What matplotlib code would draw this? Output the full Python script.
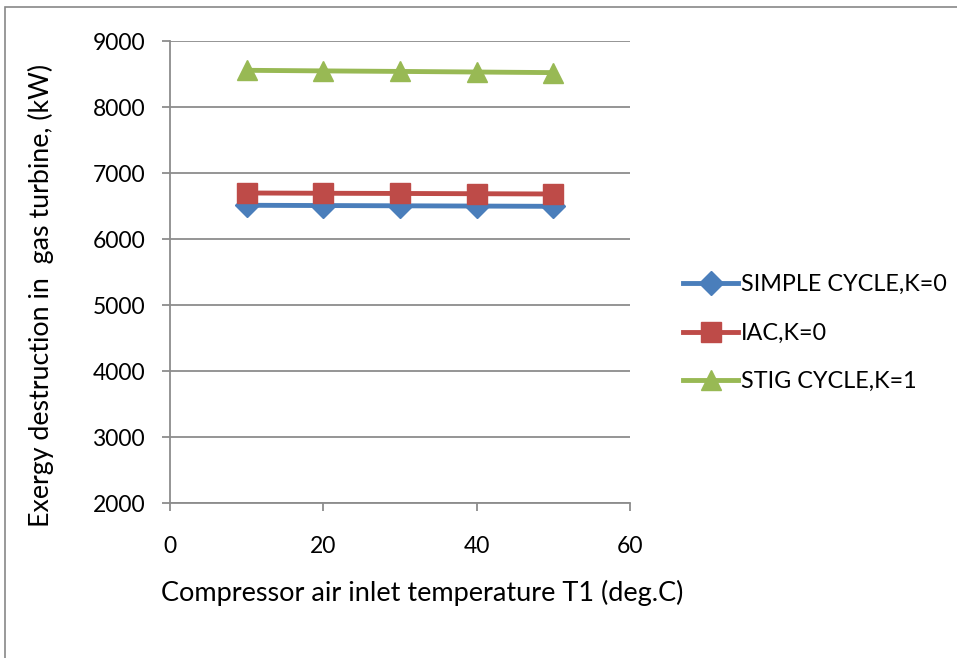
import numpy as np
import matplotlib.pyplot as plt
from matplotlib.patches import Rectangle

plt.rcParams['font.family'] = ['Lato', 'DejaVu Sans']

# data
t1 = [10, 20, 30, 40, 50]
simple_cycle = [6511, 6507, 6503, 6499, 6495]
iac = [6697, 6693, 6690, 6686, 6682]
stig_cycle = [8556, 8547, 8539, 8530, 8521]
labels = ['SIMPLE CYCLE,K=0', 'IAC,K=0', 'STIG CYCLE,K=1']

fig = plt.figure(figsize=(9.57, 6.58), dpi=100)
ax = fig.add_axes([170 / 957, 1 - 503 / 658, 460 / 957, 462 / 658])

# outer chart border (only left and top visible)
fig.add_artist(Rectangle((5 / 957, -0.1), 1.2, (658 - 7) / 658 + 0.1, transform=fig.transFigure,
                         fill=False, edgecolor='#888888', linewidth=1.2))

ax.plot(t1, simple_cycle, color='#4a7ebb', lw=3.5, marker='D', markersize=12, label=labels[0])
ax.plot(t1, iac, color='#be4b48', lw=3.5, marker='s', markersize=14, label=labels[1])
ax.plot(t1, stig_cycle, color='#98b954', lw=3.5, marker='^', markersize=14, label=labels[2])

ax.set_xlim(0, 60)
ax.set_ylim(2000, 9000)
ax.set_xticks([0, 20, 40, 60])
ax.set_yticks(np.arange(2000, 9001, 1000))
ax.yaxis.grid(True, color='#8c8c8c', lw=1.3)
ax.set_axisbelow(True)
for s in ['top', 'right']:
    ax.spines[s].set_visible(False)
for s in ['left', 'bottom']:
    ax.spines[s].set_color('#8c8c8c')
    ax.spines[s].set_linewidth(1.3)
ax.tick_params(axis='both', colors='#8c8c8c', labelcolor='black', labelsize=16.5, length=6, width=1.3)
ax.tick_params(axis='y', pad=12)
ax.tick_params(axis='x', pad=18)

ax.set_xlabel('Compressor air inlet temperature T1 (deg.C)', fontsize=19.5)
ax.xaxis.set_label_coords(0.548, -0.167)
ax.set_ylabel('Exergy destruction in  gas turbine, (kW)', fontsize=19.3)
ax.yaxis.set_label_coords(-0.252, 0.45)

ax.legend(loc='center left', bbox_to_anchor=(1.07, 0.3676), frameon=False, fontsize=16.8,
          handlelength=2.35, handletextpad=0.12, labelspacing=1.18)

fig.savefig('out.png', dpi=100)
